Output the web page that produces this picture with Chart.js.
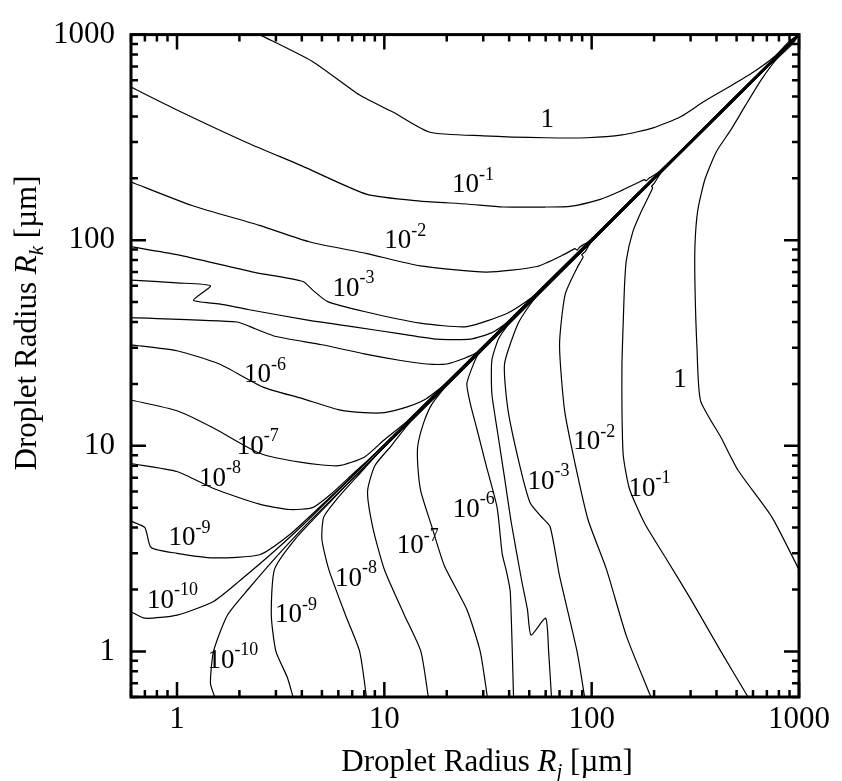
<!DOCTYPE html>
<html>
<head>
<meta charset="utf-8">
<script src="https://cdn.jsdelivr.net/npm/chart.js@4.4.1/dist/chart.umd.min.js"></script>
<style>
  body { margin: 0; background: #fff; }
  #wrap { width: 842px; height: 781px; }
</style>
</head>
<body>
<div id="wrap"><canvas id="chart" width="842" height="781"></canvas></div>
<script>
// Axis range and labelled ticks
const axisMin = 0.6;
const axisMax = 1000;
const tickLabels = [1, 10, 100, 1000];

// Upper-left contours (Rk > Rj), points [Rj, Rk] in um, level 1 down to 1e-10
const up0 = [[2.5,1000],[4.5,740],[7.6,508],[11,420],[16.6,335],[30,322],[60,315],[95,315],[140,325],[198,352],[270,400],[345,470],[450,550],[601,656],[760,780],[906,936],[1000,1000]];
const upM1 = [[0.6,556],[1,430],[2.18,298],[4,230],[8.26,167],[14.9,155],[25,150],[37.4,145],[60,145],[78.7,146],[110,158],[137,173],[170,192],[180,197],[183,194.5],[190,201],[214,217],[990,1000]];
const upM2 = [[0.6,192],[1.19,147],[2.5,118],[4.38,98],[8.26,86],[14.9,75],[31,70],[54.5,74.5],[75,86],[83,91],[85,89.5],[88,93],[98,99.5],[990,1000]];
const upM3 = [[0.6,93],[1,85],[2.33,70],[4.05,63],[4.53,57],[5.3,50.4],[8,45],[14.9,39.5],[25,38],[39,44],[48,50],[54.5,55.5],[990,1000]];
const upM4 = [[0.6,64],[1,62],[1.45,60],[1.2,51],[1.6,49],[2.2,46],[4.2,41],[7,38],[12,35],[18,33],[26,33],[33,35.5],[39,39.8],[990,1000]];
const upM5 = [[0.6,42],[1.95,40],[2.4,37],[3,34],[5,31],[8,28],[12,26],[16,25],[20,25],[24,26.5],[28,28.5],[990,1000]];
const upM6 = [[0.6,31],[1,29],[1.6,25],[2.6,19.3],[4,17],[6,15],[8,14.5],[10,14.5],[13,15.5],[16,17],[20,20.3],[990,1000]];
const upM7 = [[0.6,16.7],[1,14.8],[1.5,12.2],[2.5,9.2],[4,8.3],[6,8.0],[8,8.8],[10,10.7],[13,13.3],[990,1000]];
const upM8 = [[0.6,8.2],[1,7.5],[1.5,6.2],[2.5,5.2],[3.5,4.9],[4.5,5.0],[5.5,5.8],[7,7.25],[10,10.1],[990,1000]];
const upM9 = [[0.6,4.3],[0.7,4.0],[0.75,3.2],[1,3.0],[1.5,2.85],[2.5,2.95],[3.5,3.7],[5,5.15],[7.5,7.6],[990,1000]];
const upM10 = [[0.6,1.56],[0.7,1.45],[1,1.5],[1.5,1.75],[2,2.2],[3,3.12],[4.5,4.57],[990,1000]];

// Lower-right contours (Rj > Rk), points [Rj, Rk] in um
const lo0 = [[1000,2.5],[740,4.5],[508,7.6],[420,11],[335,16.6],[322,30],[315,60],[315,95],[325,140],[352,198],[400,270],[470,345],[550,450],[656,601],[780,760],[936,906],[1000,1000]];
const loM1 = [[568,0.6],[420,1],[300,1.8],[230,2.8],[180,4.2],[152,6.2],[142,9],[140,15],[140,25],[142,40],[144,60],[147,80],[158,110],[173,137],[192,170],[197,180],[194.5,183],[201,190],[217,214],[1000,990]];
const loM2 = [[193,0.6],[147,1.19],[118,2.5],[96,4.38],[83,8.26],[74,14.9],[70,31],[74.5,54.5],[86,75],[91,83],[89.5,85],[93,88],[99.5,98],[1000,990]];
const loM3 = [[92.5,0.6],[85,1],[70,2.33],[63,4.05],[57,4.53],[50.4,5.3],[45,8],[39.5,14.9],[38,25],[44,39],[50,48],[55.5,54.5],[1000,990]];
const loM4 = [[64,0.6],[62,1],[60,1.45],[51,1.2],[49,1.6],[46,2.2],[41,4.2],[38,7],[35,12],[33,18],[33,26],[35.5,33],[39.8,39],[1000,990]];
const loM5 = [[42,0.6],[40.5,1.95],[39,2.4],[37,3],[35,5],[31,8],[28,12],[26,16],[25,20],[26.5,24],[28.5,28],[1000,990]];
const loM6 = [[31.4,0.6],[29,1],[25,1.6],[19.5,2.6],[17,4],[15,6],[14.5,8],[14.5,10],[15.5,13],[17,16],[20.3,20],[1000,990]];
const loM7 = [[16.3,0.6],[15,1],[12.5,1.5],[10,2.5],[8.8,4],[8.3,6],[9.0,8],[10.8,10],[13.3,13],[1000,990]];
const loM8 = [[8.2,0.6],[7.6,1],[6.5,1.5],[5.4,2.5],[5.0,3.5],[5.1,4.5],[5.9,5.5],[7.3,7],[10.1,10],[1000,990]];
const loM9 = [[3.63,0.6],[3.4,0.75],[3.0,1],[2.85,1.5],[2.95,2.5],[3.7,3.5],[5.15,5],[7.6,7.5],[1000,990]];
const loM10 = [[1.52,0.6],[1.45,0.7],[1.5,1],[1.75,1.5],[2.2,2],[3.12,3],[4.57,4.5],[1000,990]];

// Contour label anchors [Rj, Rk] and their exponents ('0' means plain 1)
const labelExp = ['0', '-1', '-2', '-3', '-6', '-7', '-8', '-9', '-10',
                  '0', '-1', '-2', '-3', '-6', '-7', '-8', '-9', '-10'];
const labelX = [61, 26.8, 12.6, 7.1, 2.66, 2.45, 1.61, 1.15, 0.95,
                267, 190, 103, 62, 27, 14.5, 7.3, 3.75, 1.86];
const labelY = [385, 185, 99, 58, 22, 9.9, 6.9, 3.55, 1.76,
                20.8, 6.2, 10.4, 6.7, 4.9, 3.25, 2.25, 1.5, 0.9];

const upperCurves = [up0, upM1, upM2, upM3, upM4, upM5, upM6, upM7, upM8, upM9, upM10];
const lowerCurves = [lo0, loM1, loM2, loM3, loM4, loM5, loM6, loM7, loM8, loM9, loM10];

// tick values: 1..9 per decade inside the range
const tickValues = [];
for (let d = 0.1; d <= 1000; d *= 10) {
  for (let m = 1; m <= 9; m++) {
    const v = Math.round(m * d * 1000) / 1000;
    if (v >= axisMin && v <= axisMax) tickValues.push(v);
  }
}

const serif = '"Liberation Serif", "Times New Roman", serif';

const datasets = upperCurves.concat(lowerCurves).map(c => ({
  data: c.map(p => ({ x: p[0], y: p[1] })),
  showLine: true,
  borderColor: '#000',
  borderWidth: 1.2,
  pointRadius: 0,
  tension: 0.2
}));

function drawPow(ctx, x, y, exp, size) {
  // "10" with superscript exponent, centred on x,y
  ctx.font = size + 'px ' + serif;
  if (exp === '0') {
    ctx.fillText('1', x - ctx.measureText('1').width / 2, y);
    return;
  }
  const w1 = ctx.measureText('10').width;
  const small = Math.round(size * 0.68) + 'px ' + serif;
  ctx.font = small;
  const w2 = ctx.measureText(exp).width;
  const x0 = x - (w1 + w2) / 2;
  ctx.font = size + 'px ' + serif;
  ctx.fillText('10', x0, y);
  ctx.font = small;
  ctx.fillText(exp, x0 + w1, y - size * 0.38);
}

const frameTicks = {
  id: 'frameTicks',
  afterDraw(chart) {
    const { ctx, chartArea: a, scales } = chart;
    const sx = scales.x, sy = scales.y;
    ctx.save();
    ctx.strokeStyle = '#000';
    ctx.lineWidth = 2.5;
    ctx.beginPath();
    tickValues.forEach(v => {
      const len = tickLabels.includes(v) ? 15 : 7;
      const px = sx.getPixelForValue(v);
      ctx.moveTo(px, a.bottom); ctx.lineTo(px, a.bottom - len);
      ctx.moveTo(px, a.top); ctx.lineTo(px, a.top + len);
      const py = sy.getPixelForValue(v);
      ctx.moveTo(a.left, py); ctx.lineTo(a.left + len, py);
      ctx.moveTo(a.right, py); ctx.lineTo(a.right - len, py);
    });
    ctx.stroke();
    ctx.lineWidth = 3;
    ctx.strokeRect(a.left, a.top, a.right - a.left, a.bottom - a.top);

    // contour labels
    ctx.fillStyle = '#000';
    ctx.textBaseline = 'middle';
    labelExp.forEach((e, i) => {
      drawPow(ctx, sx.getPixelForValue(labelX[i]), sy.getPixelForValue(labelY[i]), e, 27);
    });

    // axis titles with italic R and subscript
    ctx.textBaseline = 'alphabetic';
    const drawTitle = (sub, cx, cy) => {
      const parts = [
        { t: 'Droplet Radius ', f: '31px ' + serif, dy: 0 },
        { t: 'R', f: 'italic 31px ' + serif, dy: 0 },
        { t: sub, f: 'italic 21px ' + serif, dy: 7 },
        { t: ' [\u00B5m]', f: '31px ' + serif, dy: 0 }
      ];
      let w = 0;
      parts.forEach(p => { ctx.font = p.f; p.w = ctx.measureText(p.t).width; w += p.w; });
      let x = cx - w / 2;
      parts.forEach(p => { ctx.font = p.f; ctx.fillText(p.t, x, cy + p.dy); x += p.w; });
    };
    drawTitle('j', 487, 771);
    ctx.translate(36, 323);
    ctx.rotate(-Math.PI / 2);
    drawTitle('k', 0, 0);
    ctx.restore();
  }
};

const tickFont = { family: serif, size: 31 };

new Chart(document.getElementById('chart').getContext('2d'), {
  type: 'scatter',
  data: { datasets },
  options: {
    responsive: false,
    animation: false,
    layout: { padding: { left: 0, top: 29, right: 43, bottom: 0 } },
    plugins: { legend: { display: false }, tooltip: { enabled: false } },
    scales: {
      x: {
        type: 'logarithmic', min: axisMin, max: axisMax,
        afterBuildTicks: s => { s.ticks = tickValues.map(v => ({ value: v })); },
        afterFit: s => { s.height = 84; },
        grid: { display: false, drawTicks: false },
        border: { display: false },
        ticks: {
          autoSkip: false, maxRotation: 0, padding: 4, color: '#000', font: tickFont,
          callback: v => tickLabels.includes(v) ? String(v) : ''
        }
      },
      y: {
        type: 'logarithmic', min: axisMin, max: axisMax,
        afterBuildTicks: s => { s.ticks = tickValues.map(v => ({ value: v })); },
        afterFit: s => { s.width = 131; },
        grid: { display: false, drawTicks: false },
        border: { display: false },
        ticks: {
          autoSkip: false, padding: 16, color: '#000', font: tickFont,
          callback: v => tickLabels.includes(v) ? String(v) : ''
        }
      }
    }
  },
  plugins: [frameTicks]
});
</script>
</body>
</html>
